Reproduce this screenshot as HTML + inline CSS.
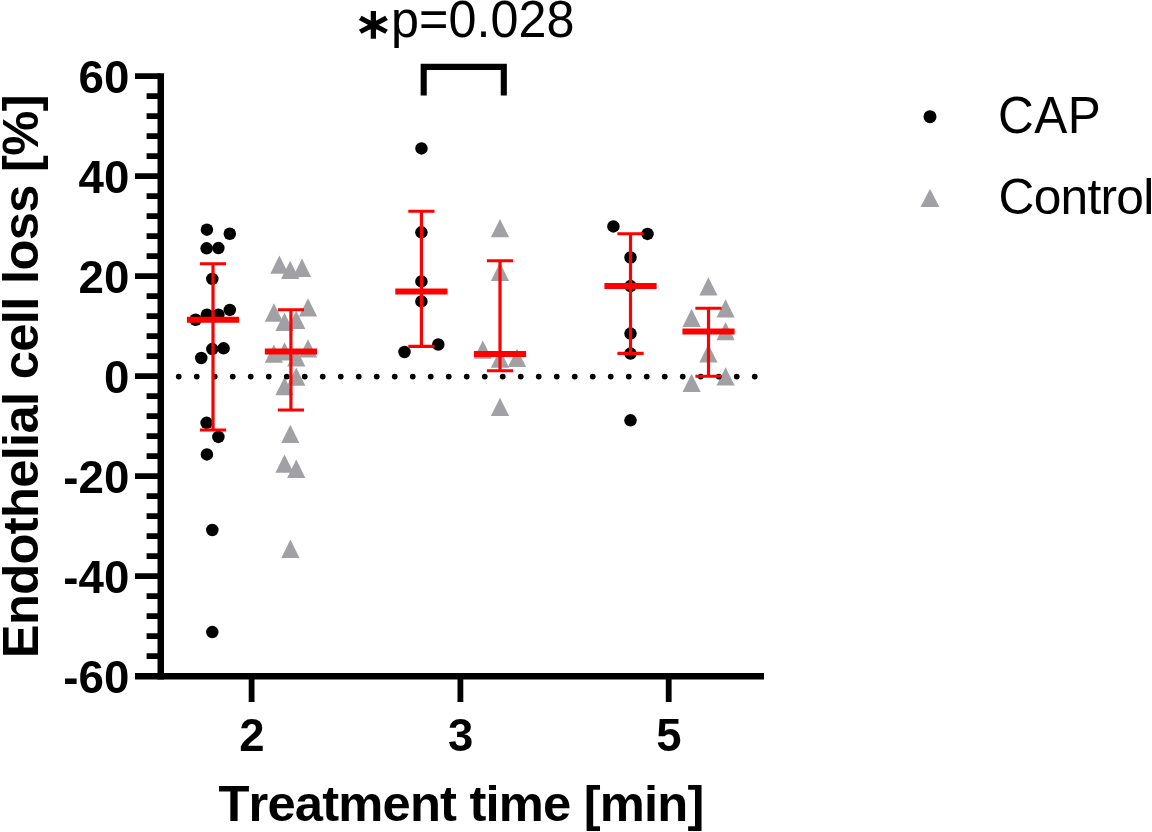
<!DOCTYPE html>
<html lang="en"><head><meta charset="utf-8"><title>Endothelial cell loss</title>
<style>html,body{margin:0;padding:0;background:#fff;overflow:hidden}svg{display:block}text{font-family:"Liberation Sans",sans-serif;fill:#000}text{font-kerning:none}.b{font-weight:bold}</style></head><body>
<svg width="1152" height="832" viewBox="0 0 1152 832">
<rect width="1152" height="832" fill="#fff"/>
<g fill="#a1a0a4">
<path d="M279.40 255.50L288.50 273.80H270.30Z"/>
<path d="M302.00 258.60L311.10 276.90H292.90Z"/>
<path d="M290.20 260.70L299.30 279.00H281.10Z"/>
<path d="M273.90 303.35L283.00 321.65H264.80Z"/>
<path d="M308.00 298.20L317.10 316.50H298.90Z"/>
<path d="M284.50 312.70L293.60 331.00H275.40Z"/>
<path d="M296.25 310.70L305.35 329.00H287.15Z"/>
<path d="M273.90 344.50L283.00 362.80H264.80Z"/>
<path d="M284.50 342.30L293.60 360.60H275.40Z"/>
<path d="M308.00 339.30L317.10 357.60H298.90Z"/>
<path d="M296.25 348.20L305.35 366.50H287.15Z"/>
<path d="M296.25 367.40L305.35 385.70H287.15Z"/>
<path d="M284.50 376.90L293.60 395.20H275.40Z"/>
<path d="M290.30 424.80L299.40 443.10H281.20Z"/>
<path d="M284.50 454.50L293.60 472.80H275.40Z"/>
<path d="M296.25 459.60L305.35 477.90H287.15Z"/>
<path d="M290.40 539.60L299.50 557.90H281.30Z"/>
<path d="M500.00 219.00L509.10 237.30H490.90Z"/>
<path d="M500.00 262.60L509.10 280.90H490.90Z"/>
<path d="M482.80 340.50L491.90 358.80H473.70Z"/>
<path d="M517.00 348.70L526.10 367.00H507.90Z"/>
<path d="M500.00 349.50L509.10 367.80H490.90Z"/>
<path d="M500.00 397.80L509.10 416.10H490.90Z"/>
<path d="M708.40 277.20L717.50 295.50H699.30Z"/>
<path d="M725.60 299.20L734.70 317.50H716.50Z"/>
<path d="M691.60 308.70L700.70 327.00H682.50Z"/>
<path d="M725.60 321.90L734.70 340.20H716.50Z"/>
<path d="M708.40 344.20L717.50 362.50H699.30Z"/>
<path d="M725.60 367.30L734.70 385.60H716.50Z"/>
<path d="M691.60 373.70L700.70 392.00H682.50Z"/>
</g>
<g fill="#000">
<circle cx="206.9" cy="229.7" r="6.25"/>
<circle cx="229.8" cy="233.75" r="6.25"/>
<circle cx="206.6" cy="248.3" r="6.25"/>
<circle cx="218.4" cy="248.1" r="6.25"/>
<circle cx="212.3" cy="278.9" r="6.25"/>
<circle cx="229.8" cy="309.9" r="6.25"/>
<circle cx="206.9" cy="314.75" r="6.25"/>
<circle cx="218.4" cy="314.75" r="6.25"/>
<circle cx="195.6" cy="319.75" r="6.25"/>
<circle cx="212.3" cy="349.1" r="6.25"/>
<circle cx="223.6" cy="348.3" r="6.25"/>
<circle cx="201.25" cy="358" r="6.25"/>
<circle cx="206.6" cy="422.8" r="6.25"/>
<circle cx="218.4" cy="436.9" r="6.25"/>
<circle cx="206.9" cy="454.4" r="6.25"/>
<circle cx="212.3" cy="530" r="6.25"/>
<circle cx="212.3" cy="632.1" r="6.25"/>
<circle cx="421.5" cy="148.4" r="6.25"/>
<circle cx="421.4" cy="232.3" r="6.25"/>
<circle cx="421.4" cy="281.4" r="6.25"/>
<circle cx="421.4" cy="301.4" r="6.25"/>
<circle cx="404.5" cy="352" r="6.25"/>
<circle cx="438.3" cy="344.5" r="6.25"/>
<circle cx="613.4" cy="226.4" r="6.25"/>
<circle cx="647.5" cy="233.9" r="6.25"/>
<circle cx="630.5" cy="257.5" r="6.25"/>
<circle cx="630.5" cy="286.1" r="6.25"/>
<circle cx="630.5" cy="333.6" r="6.25"/>
<circle cx="630.5" cy="353.6" r="6.25"/>
<circle cx="630.5" cy="420.3" r="6.25"/>
</g>
<path d="M178.75 376.55H760" stroke="#000" stroke-width="5.8" stroke-linecap="round" stroke-dasharray="0 18" fill="none"/>
<g stroke="#ff0000" fill="none">
<path d="M213.0 263.75V430.0" stroke-width="3.2"/>
<path d="M199.9 263.75H226.1M199.9 430.0H226.1" stroke-width="3.1"/>
<path d="M186.9 319.8H239.1" stroke-width="6"/>
<path d="M290.9 309.8V410.0" stroke-width="3.2"/>
<path d="M277.79999999999995 309.8H304.0M277.79999999999995 410.0H304.0" stroke-width="3.1"/>
<path d="M264.79999999999995 351.5H317.0" stroke-width="6"/>
<path d="M421.4 211.25V346.4" stroke-width="3.2"/>
<path d="M408.29999999999995 211.25H434.5M408.29999999999995 346.4H434.5" stroke-width="3.1"/>
<path d="M395.29999999999995 291.4H447.5" stroke-width="6"/>
<path d="M500.0 260.8V370.8" stroke-width="3.2"/>
<path d="M486.9 260.8H513.1M486.9 370.8H513.1" stroke-width="3.1"/>
<path d="M473.9 353.9H526.1" stroke-width="6"/>
<path d="M630.5 233.75V353.4" stroke-width="3.2"/>
<path d="M617.4 233.75H643.6M617.4 353.4H643.6" stroke-width="3.1"/>
<path d="M604.4 285.9H656.6" stroke-width="6"/>
<path d="M708.5 308.2V376.25" stroke-width="3.2"/>
<path d="M695.4 308.2H721.6M695.4 376.25H721.6" stroke-width="3.1"/>
<path d="M682.4 331.4H734.6" stroke-width="6"/>
</g>
<g stroke="#000" fill="none">
<path d="M160.75 73.14999999999999V679.45" stroke-width="6.5"/>
<path d="M135 676.2H764" stroke-width="6.5"/>
<path d="M135 76.05H160.75M146.6 96.05H160.75M146.6 116.05H160.75M146.6 136.05H160.75M146.6 156.05H160.75M135 176.05H160.75M146.6 196.05H160.75M146.6 216.05H160.75M146.6 236.05H160.75M146.6 256.05H160.75M135 276.05H160.75M146.6 296.05H160.75M146.6 316.05H160.75M146.6 336.05H160.75M146.6 356.05H160.75M135 376.05H160.75M146.6 396.05H160.75M146.6 416.05H160.75M146.6 436.05H160.75M146.6 456.05H160.75M135 476.05H160.75M146.6 496.05H160.75M146.6 516.05H160.75M146.6 536.05H160.75M146.6 556.05H160.75M135 576.05H160.75M146.6 596.05H160.75M146.6 616.05H160.75M146.6 636.05H160.75M146.6 656.05H160.75" stroke-width="5.8"/>
<path d="M251.6 676.2V702M460.4 676.2V702M668.7 676.2V702" stroke-width="5.8"/>
<path d="M423.7 95.4V66.9H503.8V95.4" stroke-width="6.1"/>
</g>
<text class="b" transform="translate(129.3 92.95) scale(1 1.025)" font-size="45.7" text-anchor="end">60</text>
<text class="b" transform="translate(129.3 192.95) scale(1 1.025)" font-size="45.7" text-anchor="end">40</text>
<text class="b" transform="translate(129.3 292.95) scale(1 1.025)" font-size="45.7" text-anchor="end">20</text>
<text class="b" transform="translate(129.3 392.95) scale(1 1.025)" font-size="45.7" text-anchor="end">0</text>
<text class="b" transform="translate(129.3 492.95) scale(1 1.025)" font-size="45.7" text-anchor="end">-20</text>
<text class="b" transform="translate(129.3 592.95) scale(1 1.025)" font-size="45.7" text-anchor="end">-40</text>
<text class="b" transform="translate(129.3 692.95) scale(1 1.025)" font-size="45.7" text-anchor="end">-60</text>
<text class="b" transform="translate(251.9 750.8) scale(1 1.025)" font-size="45.5" text-anchor="middle">2</text>
<text class="b" transform="translate(460.7 750.8) scale(1 1.025)" font-size="45.5" text-anchor="middle">3</text>
<text class="b" transform="translate(669.0 750.8) scale(1 1.025)" font-size="45.5" text-anchor="middle">5</text>
<text class="b" transform="translate(218.4 820.8)" font-size="50.7" letter-spacing="-0.81">Treatment time [min]</text>
<text class="b" transform="translate(37.8 658.2) rotate(-90)" font-size="50.7" letter-spacing="-0.686">Endothelial cell loss [%]</text>
<text transform="translate(391.0 37.2) scale(1 1.02)" font-size="50.3" letter-spacing="0.03">p=0.028</text>
<text id="ast" class="b" transform="translate(373 37.6) scale(1.1 1)" font-size="42.1" text-anchor="middle" font-family="&quot;DejaVu Sans&quot;,sans-serif">∗</text>
<circle cx="930" cy="116.7" r="6.5" fill="#000"/>
<path d="M930 188.7L939.4 206.9H920.6Z" fill="#a1a0a4"/>
<text transform="translate(998 133.15) scale(1 1.04)" font-size="49.5" letter-spacing="0.5">CAP</text>
<text transform="translate(998.5 214.25)" font-size="49.7" letter-spacing="-0.74">Control</text>
</svg></body></html>
